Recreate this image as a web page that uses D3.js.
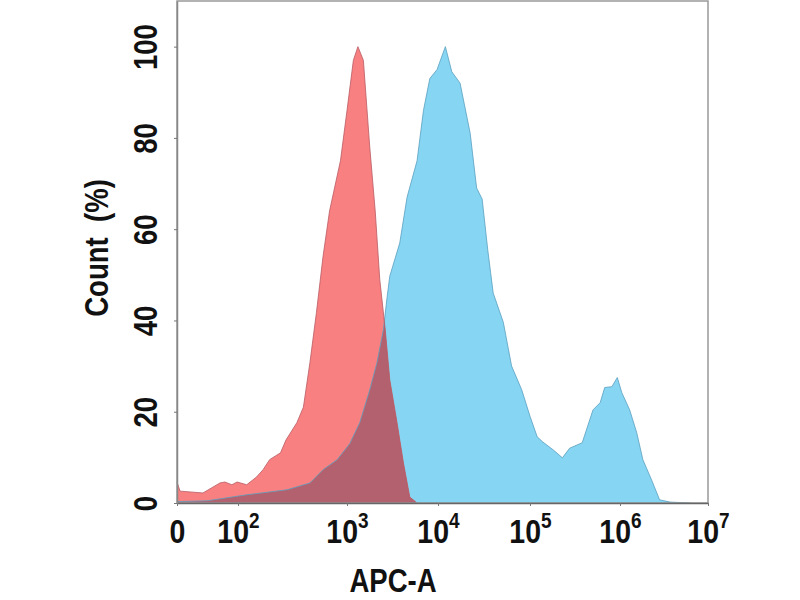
<!DOCTYPE html>
<html>
<head>
<meta charset="utf-8">
<script src="https://cdn.jsdelivr.net/npm/d3@7"></script>
<style>
  body { margin: 0; background: #fff; }
  text { font-family: "Liberation Sans", Arial, sans-serif; font-weight: bold; fill: #111; }
</style>
</head>
<body>
<div id="chart-container"></div>
<script>
// x values are decade positions on the APC-A axis (0 = zero, 2 = 10^2 ...)
const xTicks = [0, 2, 3, 4, 5, 6, 7];
const yTicks = [0, 20, 40, 60, 80, 100];

// control (red) histogram
const redX = [0, 0.10, 0.85, 1.41, 1.57, 1.80, 1.97, 2.08, 2.17, 2.23, 2.29, 2.39, 2.44, 2.54, 2.60,
  2.66, 2.72, 2.78, 2.84, 2.94, 3.00, 3.07, 3.12, 3.18, 3.25, 3.31, 3.36, 3.42, 3.47, 3.55, 3.62, 3.69, 3.77];
const redY = [4.6, 2.6, 2.2, 4.4, 4.6, 4.0, 4.6, 4.0, 5.7, 7.3, 9.5, 11, 13.8, 17.6, 21,
  30.8, 41.8, 54, 64, 75, 86, 97, 100, 97, 78, 64, 49, 38, 27, 17.6, 8.8, 1.3, 0];

// stained (blue) histogram
const blueX = [0, 1.0, 2.08, 2.45, 2.66, 2.78, 2.91, 3.03, 3.14, 3.25,
  3.33, 3.40, 3.44, 3.47, 3.58, 3.66, 3.77, 3.84, 3.91, 3.99,
  4.08, 4.15, 4.24, 4.35, 4.42, 4.48, 4.54, 4.60, 4.71, 4.80,
  4.91, 5.00, 5.08, 5.14, 5.26, 5.36, 5.44, 5.58, 5.70, 5.78,
  5.83, 5.91, 5.97, 6.02, 6.11, 6.19, 6.26, 6.36, 6.45, 6.57, 6.80];
const blueY = [0.3, 0.5, 1.8, 2.9, 4.4, 7.3, 9.5, 13, 17.6, 24.8,
  30.8, 38, 45, 49.7, 57, 67, 75, 86, 93, 95,
  100, 94.5, 92, 81, 69, 66.6, 55.6, 46, 39.6, 30,
  24.8, 19, 14.5, 13.4, 11.6, 9.9, 12, 13.2, 20.4, 22,
  25.3, 25.5, 27.5, 24.2, 20.4, 15.4, 9.5, 5, 0.7, 0.2, 0];

const width = 800, height = 600;
const plot = { left: 177, right: 708, top: 1, bottom: 503 };

const svg = d3.select("#chart-container").append("svg")
  .attr("width", width).attr("height", height);

// piecewise axis (display decades)
const x = d3.scaleLinear().domain(xTicks).range([177, 238, 347, 438, 530, 620, 708]);
const y = d3.scaleLinear().domain([0, 110]).range([plot.bottom, plot.top]);

const red = redX.map((d, i) => ({ x: d, y: redY[i] }));
const blue = blueX.map((d, i) => ({ x: d, y: blueY[i] }));

const area = d3.area().x(d => x(d.x)).y0(y(0)).y1(d => y(d.y));
const line = d3.line().x(d => x(d.x)).y(d => y(d.y));

svg.append("clipPath").attr("id", "redClip")
  .append("path").attr("d", area(red));

svg.append("path").attr("d", area(blue)).attr("fill", "#85d5f3");
svg.append("path").attr("d", area(red)).attr("fill", "#f98080");
// overlap of the two histograms
svg.append("path").attr("d", area(blue)).attr("fill", "#b3606f")
  .attr("clip-path", "url(#redClip)");

svg.append("path").attr("d", line(blue)).attr("fill", "none")
  .attr("stroke", "#5a9fbf").attr("stroke-width", 0.8);
svg.append("path").attr("d", line(red)).attr("fill", "none")
  .attr("stroke", "#b85a63").attr("stroke-width", 0.8);

// frame
svg.append("rect").attr("x", plot.left).attr("y", plot.top)
  .attr("width", plot.right - plot.left).attr("height", plot.bottom - plot.top)
  .attr("fill", "none").attr("stroke", "#999").attr("stroke-width", 1.5);

// glyphs in the original are a bit taller than Liberation Sans
const sx = 0.95, sy = 1.12;

// X axis
const gx = svg.append("g").attr("transform", `translate(0,${plot.bottom})`)
  .call(d3.axisBottom(x).tickValues(xTicks).tickSize(3).tickSizeOuter(0));
gx.select(".domain").attr("stroke", "#666").attr("stroke-width", 1.5);
gx.selectAll(".tick line").attr("stroke", "#777");
gx.selectAll(".tick text").each(function (d) {
  const t = d3.select(this).text(null)
    .attr("y", 40 / sy).attr("dy", 0)
    .attr("transform", `scale(${sx},${sy})`)
    .attr("font-size", 30).attr("text-anchor", "middle");
  if (d === 0) { t.text("0"); return; }
  t.append("tspan").text("10");
  t.append("tspan").attr("dy", -13).attr("font-size", 20).text(d);
});

// Y axis
const gy = svg.append("g").attr("transform", `translate(${plot.left},0)`)
  .call(d3.axisLeft(y).tickValues(yTicks).tickSize(3).tickSizeOuter(0));
gy.select(".domain").attr("stroke", "#888").attr("stroke-width", 1.5);
gy.selectAll(".tick line").attr("stroke", "#777");
gy.selectAll(".tick text")
  .attr("x", 0).attr("y", -20 / sy).attr("dy", 0)
  .attr("transform", `rotate(-90) scale(${sx},${sy})`)
  .attr("text-anchor", "middle")
  .attr("font-size", 29);

// axis titles
svg.append("text")
  .attr("transform", `translate(108,248) rotate(-90) scale(${sx},${sy})`)
  .attr("text-anchor", "middle")
  .attr("font-size", 29)
  .style("white-space", "pre")
  .text("Count  (%)");

svg.append("text")
  .attr("transform", `translate(393,592) scale(${sx},${sy})`)
  .attr("text-anchor", "middle")
  .attr("font-size", 29)
  .text("APC-A");
</script>
</body>
</html>
